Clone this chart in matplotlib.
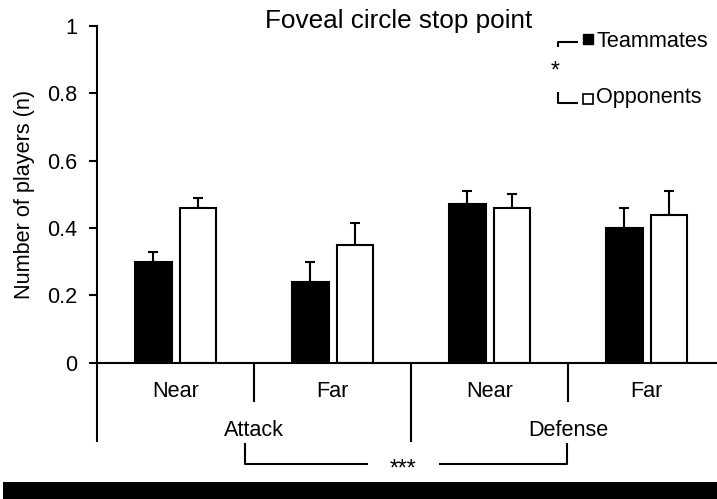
import numpy as np
import matplotlib
matplotlib.use('Agg')
import matplotlib.pyplot as plt
from matplotlib.patches import Rectangle

plt.rcParams['font.family'] = ['Liberation Sans', 'DejaVu Sans']

# --- data: mean number of players and upper SE per condition ---
conditions = ['Near', 'Far', 'Near', 'Far']
phases = ['Attack', 'Defense']
teammates = [0.30, 0.24, 0.47, 0.40]
teammates_err = [0.03, 0.06, 0.04, 0.06]
opponents = [0.46, 0.35, 0.46, 0.44]
opponents_err = [0.03, 0.065, 0.04, 0.07]
yticks = [0, 0.2, 0.4, 0.6, 0.8, 1]
yticklabels = ['0', '0.2', '0.4', '0.6', '0.8', '1']

FS = 15.6
LW = 1.5

fig = plt.figure(figsize=(7.17, 4.99), dpi=100)
ax = fig.add_axes([0.1353, 0.2731, 0.8759, 0.6748])

x = np.arange(len(conditions)) + 0.5
w = 0.235
off = 0.143
kw = dict(width=w, edgecolor='black', linewidth=LW, zorder=2)
ax.bar(x - off, teammates, color='black', **kw)
ax.bar(x + off, opponents, color='white', **kw)

ekw = dict(fmt='none', ecolor='black', elinewidth=LW, capsize=3.6, capthick=LW, zorder=1)
ax.errorbar(x - off, teammates, yerr=[np.zeros(4), teammates_err], **ekw)
ax.errorbar(x + off, opponents, yerr=[np.zeros(4), opponents_err], **ekw)

ax.set_xlim(0, 4)
ax.set_ylim(0, 1)
ax.set_yticks(yticks)
ax.set_yticklabels(yticklabels, fontsize=FS)
ax.set_xticks([])
ax.tick_params(axis='y', direction='out', length=6, width=LW, pad=8)
for s in ['top', 'right']:
    ax.spines[s].set_visible(False)
for s in ['left', 'bottom']:
    ax.spines[s].set_linewidth(LW)

# category axis below the bars
line = dict(color='black', lw=LW, clip_on=False, solid_capstyle='butt')
ax.plot([0, 0], [0, -0.235], **line)
ax.plot([2, 2], [0, -0.235], **line)
for xb in [1, 3]:
    ax.plot([xb, xb], [0, -0.116], **line)
for xi, lab in zip(x, conditions):
    ax.text(xi, -0.101, lab, ha='center', va='baseline', fontsize=FS)
for xi, lab in zip([1, 3], phases):
    ax.text(xi, -0.217, lab, ha='center', va='baseline', fontsize=FS)

# phase comparison bracket
ax.plot([0.943, 0.943, 1.727], [-0.239, -0.301, -0.301], **line)
ax.plot([2.180, 2.992, 2.992], [-0.301, -0.301, -0.239], **line)
ax.text(1.947, -0.334, '***', ha='center', va='baseline', fontsize=FS + 1)

# legend with its own significance bracket
ax.plot([2.936, 2.936, 3.064], [0.9385, 0.953, 0.953], **line)
ax.plot([2.936, 2.936, 3.064], [0.805, 0.770, 0.770], **line)
ax.plot([3.127], [0.961], 's', ms=7.5, mfc='black', mec='black', clip_on=False)
ax.plot([3.127], [0.783], 's', ms=7.5, mfc='white', mec='black', mew=1.2, clip_on=False)
ax.text(3.183, 0.9385, 'Teammates', ha='left', va='baseline', fontsize=FS)
ax.text(3.178, 0.770, 'Opponents', ha='left', va='baseline', fontsize=FS)
ax.text(2.917, 0.846, '*', ha='center', va='baseline', fontsize=FS + 1)

ax.set_ylabel('Number of players (n)', fontsize=FS, labelpad=9)
fig.text(398.5 / 717, 1 - 28.3 / 499, 'Foveal circle stop point',
         ha='center', va='baseline', fontsize=18.8)

# dark strip along the bottom edge
fig.patches.append(Rectangle((3 / 717, 0), 1, 17.5 / 499, transform=fig.transFigure,
                             facecolor='black', edgecolor='none', zorder=5))

fig.savefig('out.png', dpi=100)
